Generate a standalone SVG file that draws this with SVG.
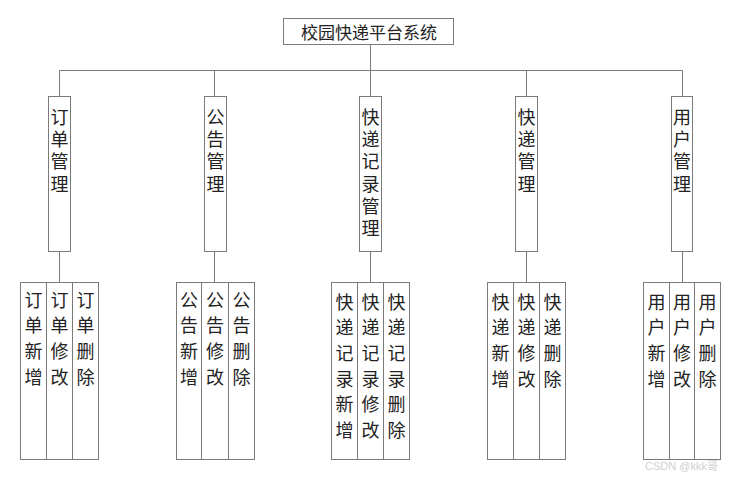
<svg xmlns="http://www.w3.org/2000/svg" width="735" height="477" viewBox="0 0 735 477">
<style>
.box{fill:#fff;stroke:#7a7a7a;stroke-width:1}
.ln{stroke:#7a7a7a;stroke-width:1;fill:none}
.t{font-family:"Noto Sans CJK SC","Noto Sans",sans-serif;font-size:18px;fill:#222;text-anchor:middle}
.v{font-family:"Noto Sans CJK SC","Noto Sans",sans-serif;font-size:18px;fill:#222;writing-mode:vertical-rl;text-anchor:start}
.m{letter-spacing:4.3px}
.lf{letter-spacing:7.6px}
.wm{font-family:"Liberation Sans","Noto Sans CJK SC",sans-serif;font-size:11px;fill:#d0d0d0;text-anchor:start}
</style>
<rect width="735" height="477" fill="#fff"/>
<g id="connectors">
<path class="ln" d="M370.5 44V70.5M59.5 70.5H682.5M59.5 70.5V96M214.5 70.5V96M370.5 70.5V96M526.5 70.5V96M682.5 70.5V96"/>
<path class="ln" d="M59.5 251V282M214.5 251V282M370.5 251V282M526.5 251V282M682.5 251V282"/>
</g>
<g id="root">
<rect class="box" x="283.5" y="18.5" width="170" height="26"/>
<text class="t" x="369" y="39" style="font-size:17px">校园快递平台系统</text>
</g>
<g id="m1"><rect class="box" x="48.5" y="96.5" width="22" height="155"/><text class="v m" x="59.5" y="108">订单管理</text></g>
<g id="m2"><rect class="box" x="204.5" y="96.5" width="22" height="155"/><text class="v m" x="215.5" y="108">公告管理</text></g>
<g id="m3"><rect class="box" x="359.5" y="96.5" width="22" height="155"/><text class="v m" x="370.5" y="108">快递记录管理</text></g>
<g id="m4"><rect class="box" x="515.5" y="96.5" width="22" height="155"/><text class="v m" x="526.5" y="108">快递管理</text></g>
<g id="m5"><rect class="box" x="671.5" y="96.5" width="21" height="155"/><text class="v m" x="682" y="108">用户管理</text></g>

<g id="l1a"><rect class="box" x="20.5" y="282.5" width="26" height="177"/><text class="v lf" x="33.5" y="291">订单新增</text></g>
<g id="l1b"><rect class="box" x="46.5" y="282.5" width="26" height="177"/><text class="v lf" x="59.5" y="291">订单修改</text></g>
<g id="l1c"><rect class="box" x="72.5" y="282.5" width="26" height="177"/><text class="v lf" x="85.5" y="291">订单删除</text></g>

<g id="l2a"><rect class="box" x="176.5" y="282.5" width="25" height="177"/><text class="v lf" x="189" y="291">公告新增</text></g>
<g id="l2b"><rect class="box" x="201.5" y="282.5" width="27" height="177"/><text class="v lf" x="215" y="291">公告修改</text></g>
<g id="l2c"><rect class="box" x="228.5" y="282.5" width="26" height="177"/><text class="v lf" x="241.5" y="291">公告删除</text></g>

<g id="l3a"><rect class="box" x="331.5" y="282.5" width="26" height="177"/><text class="v lf" x="344.5" y="293">快递记录新增</text></g>
<g id="l3b"><rect class="box" x="357.5" y="282.5" width="26" height="177"/><text class="v lf" x="370.5" y="293">快递记录修改</text></g>
<g id="l3c"><rect class="box" x="383.5" y="282.5" width="26" height="177"/><text class="v lf" x="396.5" y="293">快递记录删除</text></g>

<g id="l4a"><rect class="box" x="487.5" y="282.5" width="26" height="177"/><text class="v lf" x="500.5" y="293">快递新增</text></g>
<g id="l4b"><rect class="box" x="513.5" y="282.5" width="26" height="177"/><text class="v lf" x="526.5" y="293">快递修改</text></g>
<g id="l4c"><rect class="box" x="539.5" y="282.5" width="26" height="177"/><text class="v lf" x="552.5" y="293">快递删除</text></g>

<g id="l5a"><rect class="box" x="643.5" y="282.5" width="26" height="177"/><text class="v lf" x="656.5" y="293">用户新增</text></g>
<g id="l5b"><rect class="box" x="669.5" y="282.5" width="25" height="177"/><text class="v lf" x="682" y="293">用户修改</text></g>
<g id="l5c"><rect class="box" x="694.5" y="282.5" width="26" height="177"/><text class="v lf" x="707.5" y="293">用户删除</text></g>

<text class="wm" x="645" y="470">CSDN @kkk哥</text>
</svg>
